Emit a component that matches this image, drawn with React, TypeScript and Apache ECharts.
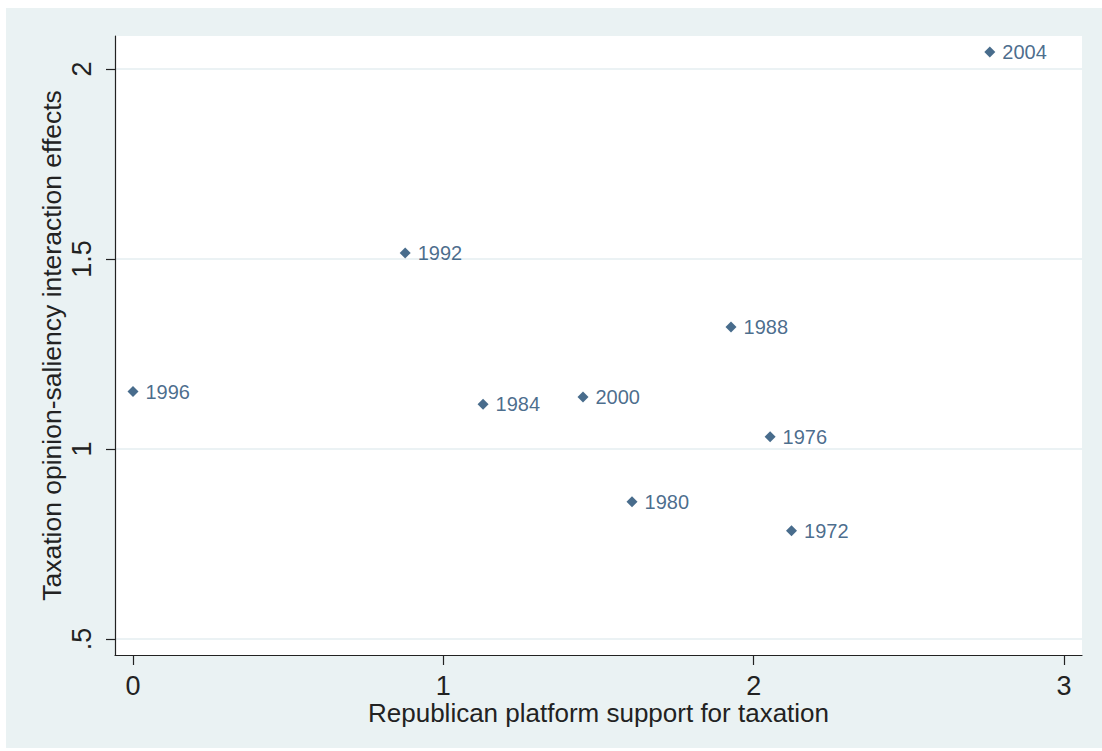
import React, { useEffect, useRef } from "react";
import * as echarts from "echarts";

const years = ["2004", "1992", "1988", "1996", "1984", "2000", "1976", "1980", "1972"];
const platformSupport = [2.761, 0.877, 1.927, 0.0, 1.128, 1.45, 2.053, 1.608, 2.122];
const interactionEffects = [2.045, 1.516, 1.321, 1.151, 1.118, 1.137, 1.032, 0.861, 0.785];
const xTicks = [0, 1, 2, 3];
const yTicks = [0.5, 1, 1.5, 2];

const FONT = '"Liberation Sans", Arial, sans-serif';
const NAVY = "#1a476f";
const INK = "#222222";
const BG = "#eaf2f3";

export default function App() {
  const ref = useRef<HTMLDivElement>(null);
  useEffect(() => {
    if (!ref.current) return;
    const chart = echarts.init(ref.current, null, { renderer: "svg" });
    const data = platformSupport.map((x, i) => [x, interactionEffects[i], years[i]]);
    chart.setOption({
      animation: false,
      backgroundColor: "#ffffff",
      textStyle: { fontFamily: FONT },
      graphic: [
        {
          type: "rect",
          z: -10,
          silent: true,
          shape: { x: 6, y: 8, width: 1096, height: 740 },
          style: { fill: BG },
        },
      ],
      grid: {
        left: 115,
        top: 36,
        right: 20,
        bottom: 96,
        show: true,
        backgroundColor: "#ffffff",
        borderWidth: 0,
      },
      xAxis: {
        type: "value",
        min: -0.058,
        max: 3.058,
        name: "Republican platform support for taxation",
        nameLocation: "middle",
        nameGap: 45,
        nameMoveOverlap: false,
        nameTextStyle: { fontSize: 26, color: INK, fontFamily: FONT },
        axisLine: { show: true, onZero: false, lineStyle: { color: INK, width: 1.2 } },
        axisTick: { show: true, length: 10, customValues: xTicks, lineStyle: { color: INK, width: 1.2 } },
        axisLabel: {
          customValues: xTicks,
          margin: 17,
          fontSize: 27,
          color: INK,
          fontFamily: FONT,
          formatter: (v: number) => String(v),
        },
        splitLine: { show: false },
      },
      yAxis: {
        type: "value",
        min: 0.4579,
        max: 2.0868,
        name: "Taxation opinion-saliency interaction effects",
        nameLocation: "middle",
        nameGap: 50,
        nameMoveOverlap: false,
        nameTextStyle: { fontSize: 26.5, color: INK, fontFamily: FONT },
        axisLine: { show: true, onZero: false, lineStyle: { color: INK, width: 1.2 } },
        axisTick: { show: true, length: 9, customValues: yTicks, lineStyle: { color: INK, width: 1.2 } },
        axisLabel: {
          customValues: yTicks,
          rotate: 90,
          margin: 20,
          fontSize: 27,
          color: INK,
          fontFamily: FONT,
          formatter: (v: number) => (v === 0.5 ? ".5" : String(v)),
        },
        splitLine: { show: true, lineStyle: { color: "#e4eef0", width: 1.5 } },
      },
      series: [
        {
          type: "scatter",
          data,
          symbol: "diamond",
          symbolSize: 11,
          itemStyle: { color: NAVY },
          label: {
            show: true,
            position: "right",
            distance: 7,
            formatter: (p: any) => p.value[2],
            fontSize: 20,
            color: NAVY,
            fontFamily: FONT,
          },
        },
      ],
    });
    return () => chart.dispose();
  }, []);
  return (
    <div
      ref={ref}
      style={{ position: "absolute", left: 0, top: 0, width: 1102, height: 751 }}
    />
  );
}
